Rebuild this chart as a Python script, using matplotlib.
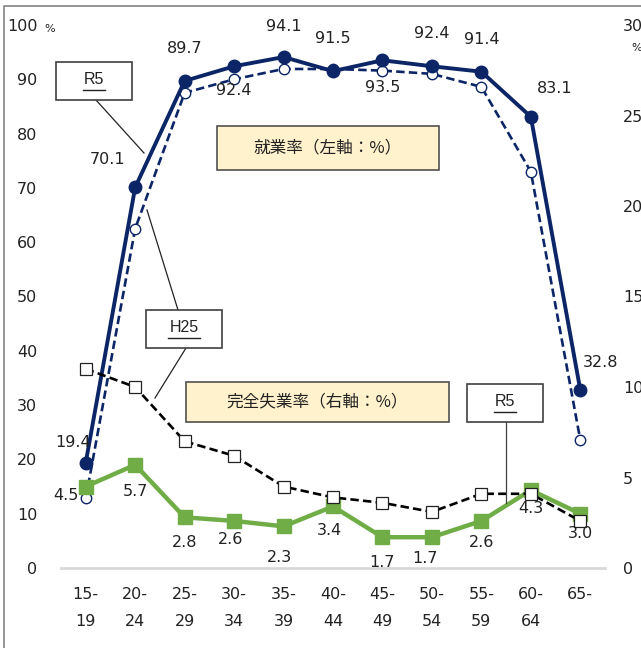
import matplotlib
matplotlib.use("Agg")
import matplotlib.pyplot as plt
from matplotlib.patches import Rectangle
from matplotlib.lines import Line2D

# ---------------- data ----------------
categories = ["15-\n19", "20-\n24", "25-\n29", "30-\n34", "35-\n39", "40-\n44",
              "45-\n49", "50-\n54", "55-\n59", "60-\n64", "65-\n"]
emp_r5 = [19.4, 70.1, 89.7, 92.4, 94.1, 91.5, 93.5, 92.4, 91.4, 83.1, 32.8]
emp_h25 = [12.8, 62.5, 87.5, 90.0, 91.9, 91.9, 91.6, 91.0, 88.6, 73.0, 23.6]
unemp_r5 = [4.5, 5.7, 2.8, 2.6, 2.3, 3.4, 1.7, 1.7, 2.6, 4.3, 3.0]
unemp_h25 = [11.0, 10.0, 7.0, 6.2, 4.5, 3.9, 3.6, 3.1, 4.1, 4.1, 2.6]
left_ticks = [0, 10, 20, 30, 40, 50, 60, 70, 80, 90, 100]
right_ticks = [0, 5, 10, 15, 20, 25, 30]

# label offsets in pixels (dx, dy) for data labels
emp_lab_off = [(-13, 20), (-28, 28), (0, 32), (0, -24), (0, 31), (0, 33),
               (0, -27), (0, 33), (0, 32), (24, 28), (20, 27)]
unemp_lab_off = [(-20, -9), (0, -27), (0, -25), (-4, -19), (-4, -31), (-4, -24),
                 (0, -25), (-7, -21), (0, -22), (0, -18), (0, -20)]

W, H = 641, 648
NAVY = "#0B2566"
GREEN = "#70AD47"

plt.rcParams["font.family"] = ["DejaVu Sans", "Noto Sans CJK JP"]

fig = plt.figure(figsize=(W / 100, H / 100), dpi=100)


def fx(x):
    return x / W


def fy(y):
    return 1 - y / H


ax = fig.add_axes([fx(61), fy(568), fx(605) - fx(61), fy(25) - fy(568)])
ax2 = ax.twinx()

x = list(range(len(categories)))

# employment (left)
ax.plot(x, emp_h25, color=NAVY, lw=1.9, ls=(0, (3.2, 1.6)), marker="o", ms=7.5,
        mfc="white", mec=NAVY, mew=1.0, zorder=3)
ax.plot(x, emp_r5, color=NAVY, lw=2.8, marker="o", ms=9, mfc=NAVY, mec=NAVY, zorder=4)

# unemployment (right)
ax2.plot(x, unemp_r5, color=GREEN, lw=3.2, marker="s", ms=9.5, mfc=GREEN, mec=GREEN, zorder=3)
ax2.plot(x, unemp_h25, color="black", lw=1.9, ls=(0, (3.2, 1.6)), marker="s", ms=8,
         mfc="white", mec="#222222", mew=0.9, zorder=4)

ax.set_xlim(-0.5, len(categories) - 0.5)
ax.set_ylim(0, 100)
ax2.set_ylim(0, 30)

for a in (ax, ax2):
    for s in a.spines.values():
        s.set_visible(False)
ax.spines["bottom"].set_visible(True)
ax.spines["bottom"].set_color("#D9D9D9")
ax.spines["bottom"].set_linewidth(2.0)

ax.set_yticks(left_ticks)
ax.set_yticklabels([str(t) for t in left_ticks], fontsize=11.5, color="#222222")
ax.tick_params(axis="y", length=0, pad=17)
ax2.set_yticks(right_ticks)
ax2.set_yticklabels([str(t) for t in right_ticks], fontsize=11.5, color="#222222")
ax2.tick_params(axis="y", length=0, pad=13)
ax.set_xticks(x)
ax.set_xticklabels(categories, fontsize=11.5, color="#222222", linespacing=2.0)
ax.tick_params(axis="x", length=0, pad=14)

# data labels
for i, v in enumerate(emp_r5):
    dx, dy = emp_lab_off[i]
    ax.annotate(f"{v:.1f}", (i, v), xytext=(dx, dy), textcoords="offset pixels",
                ha="center", va="center", fontsize=11.5, color="#222222", zorder=6)
for i, v in enumerate(unemp_r5):
    dx, dy = unemp_lab_off[i]
    ax2.annotate(f"{v:.1f}", (i, v), xytext=(dx, dy), textcoords="offset pixels",
                 ha="center", va="center", fontsize=11.5, color="#222222", zorder=6)

# percent marks
fig.text(fx(50), fy(29), "%", fontsize=8, ha="center", va="center", color="#222222")
fig.text(fx(637), fy(48), "%", fontsize=8, ha="center", va="center", color="#222222")


# boxes
def box(x0, y0, x1, y1, fc, ec):
    fig.patches.append(Rectangle((fx(x0), fy(y1)), fx(x1) - fx(x0), fy(y0) - fy(y1),
                                 transform=fig.transFigure, fc=fc, ec=ec, lw=1.2, zorder=5))


def line(x0, y0, x1, y1, color="#222222", lw=0.9, z=5):
    fig.add_artist(Line2D([fx(x0), fx(x1)], [fy(y0), fy(y1)], color=color, lw=lw,
                          transform=fig.transFigure, zorder=z))


def tag(x0, y0, x1, y1, label, uw):
    box(x0, y0, x1, y1, "white", "#404040")
    cx, cy = (x0 + x1) / 2, (y0 + y1) / 2
    fig.text(fx(cx), fy(cy - 1), label, fontsize=11.5, family=["Liberation Sans"],
             ha="center", va="center", color="#222222", zorder=8)
    line(cx - uw / 2, cy + 9, cx + uw / 2, cy + 9, color="#222222", lw=1.0, z=9)


# R5 (top-left)
tag(56, 62, 132, 100, "R5", 22)
line(96, 100, 144, 153)
# H25
tag(146, 310, 222, 348, "H25", 32)
line(178, 310, 147, 210)
line(186, 348, 155, 398)
# R5 (bottom-right)
tag(467, 384, 543, 422, "R5", 22)
line(506, 422, 506, 503, color="#404040")

# category boxes
jp = ["Noto Sans CJK JP", "DejaVu Sans"]
box(217, 126, 439, 170, "#FFF2CC", "#505050")
fig.text(fx(328), fy(148), "就業率（左軸：%）", fontsize=12, family=jp,
         ha="center", va="center", color="#222222", zorder=8)
box(186, 382, 449, 422, "#FFF2CC", "#505050")
fig.text(fx(317), fy(402), "完全失業率（右軸：%）", fontsize=12, family=jp,
         ha="center", va="center", color="#222222", zorder=8)

# outer frame (left and top edges)
fig.add_artist(Line2D([fx(4), fx(4), fx(W + 5)], [fy(H + 5), fy(6), fy(6)],
                      color="#8C8C8C", lw=1.3, transform=fig.transFigure))

fig.savefig("out.png", dpi=100)
